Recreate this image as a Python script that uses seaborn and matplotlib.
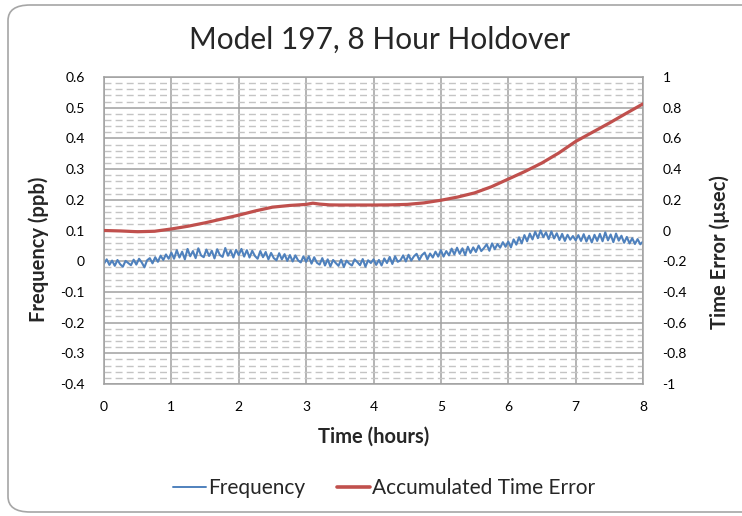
import numpy as np
import pandas as pd
import matplotlib
matplotlib.use("Agg")
import matplotlib.pyplot as plt
import seaborn as sns
from matplotlib.patches import FancyBboxPatch
from matplotlib.lines import Line2D
from matplotlib.ticker import MultipleLocator, FixedLocator

# ---------------- data ----------------
title = "Model 197, 8 Hour Holdover"
x_label = "Time (hours)"
left_label = "Frequency (ppb)"
right_label = "Time Error (\u00b5sec)"
series_names = ["Frequency", "Accumulated Time Error"]

x_ticks = [0, 1, 2, 3, 4, 5, 6, 7, 8]
left_ticks = [0.6, 0.5, 0.4, 0.3, 0.2, 0.1, 0, -0.1, -0.2, -0.3, -0.4]
left_tick_labels = ["0.6", "0.5", "0.4", "0.3", "0.2", "0.1", "0", "-0.1", "-0.2", "-0.3", "-0.4"]
right_ticks = [1, 0.8, 0.6, 0.4, 0.2, 0, -0.2, -0.4, -0.6, -0.8, -1]
right_tick_labels = ["1", "0.8", "0.6", "0.4", "0.2", "0", "-0.2", "-0.4", "-0.6", "-0.8", "-1"]

# frequency samples every 0.04 h
freq_hours = list(np.linspace(0, 8, 201))
freq_values = [
    -0.008, 0.006, -0.012, 0.002, -0.015, 0.004, -0.010, -0.018, 0.001, -0.006, -0.013, 0.005, -0.011,
    0.008, -0.004, -0.020, 0.003, 0.010, -0.007, 0.013, -0.002, 0.018, 0.004, 0.022, 0.008,
    0.028, 0.008, 0.036, 0.012, 0.031, 0.006, 0.040, 0.016, 0.033, 0.010, 0.042, 0.019, 0.013,
    0.038, 0.017, 0.034, 0.009, 0.039, 0.020, 0.014, 0.043, 0.018, 0.035, 0.012, 0.037,
    0.020, 0.040, 0.015, 0.036, 0.012, 0.034, 0.017, 0.008, 0.033, 0.013, 0.030, 0.006, 0.027,
    0.010, 0.003, 0.026, 0.006, 0.023, 0.001, 0.020, -0.001, 0.019, 0.003, -0.004, 0.016,
    -0.002, 0.016, -0.008, 0.013, -0.005, -0.011, 0.010, -0.014, 0.006, -0.017, 0.004, -0.006, -0.015,
    0.005, -0.019, 0.002, -0.008, -0.014, 0.006, -0.003, -0.013, 0.007, -0.018, 0.003, -0.006,
    0.006, -0.012, 0.004, -0.014, 0.009, -0.006, 0.014, -0.009, 0.016, -0.002, 0.003, 0.019, -0.001,
    0.021, 0.002, 0.016, 0.024, 0.004, 0.020, 0.028, 0.006, 0.025, 0.012, 0.031, 0.015,
    0.036, 0.015, 0.033, 0.019, 0.041, 0.022, 0.044, 0.024, 0.042, 0.020, 0.047, 0.027, 0.045,
    0.030, 0.051, 0.033, 0.043, 0.055, 0.034, 0.058, 0.039, 0.056, 0.044, 0.062, 0.047,
    0.064, 0.045, 0.071, 0.054, 0.078, 0.058, 0.085, 0.065, 0.090, 0.071, 0.096, 0.075, 0.100,
    0.078, 0.094, 0.072, 0.097, 0.074, 0.091, 0.069, 0.089, 0.066, 0.086, 0.070, 0.082,
    0.068, 0.085, 0.066, 0.088, 0.064, 0.083, 0.061, 0.086, 0.066, 0.089, 0.065, 0.094, 0.068,
    0.087, 0.062, 0.090, 0.067, 0.083, 0.060, 0.079, 0.058, 0.075, 0.056, 0.072, 0.055, 0.064,
]

te_hours = [0, 0.25, 0.5, 0.75, 1.0, 1.25, 1.5, 1.75, 2.0, 2.25, 2.5, 2.75, 3.0, 3.1, 3.2,
            3.35, 3.5, 3.75, 4.0, 4.25, 4.5, 4.75, 5.0, 5.25, 5.5, 5.75, 6.0, 6.25, 6.5,
            6.75, 7.0, 7.25, 7.5, 7.75, 8.0]
te_values = [0, -0.003, -0.008, -0.005, 0.01, 0.028, 0.05, 0.075, 0.10, 0.128, 0.152, 0.163,
             0.17, 0.178, 0.172, 0.167, 0.166, 0.166, 0.166, 0.167, 0.17, 0.18, 0.197, 0.218,
             0.245, 0.285, 0.335, 0.385, 0.44, 0.505, 0.58, 0.64, 0.70, 0.763, 0.825]

freq_df = pd.DataFrame({"hours": freq_hours, "value": freq_values})
te_df = pd.DataFrame({"hours": te_hours, "value": te_values})

# ---------------- style ----------------
sns.set_style("white")
plt.rcParams["font.family"] = ["Lato", "DejaVu Sans"]

blue = "#4F81BD"
red = "#C0504D"

fig = plt.figure(figsize=(7.42, 5.16), dpi=100)
ax = fig.add_axes([104 / 742, 1 - 384 / 516, (643 - 104) / 742, (384 - 77) / 516])

# chart border
border = FancyBboxPatch((8 / 742, 4 / 516), 1.2, 507 / 516,
                        boxstyle="round,pad=0,rounding_size=0.03",
                        transform=fig.transFigure, facecolor="white",
                        edgecolor="#a6a6a6", linewidth=1.2, zorder=-10)
fig.patches.append(border)

sns.lineplot(data=freq_df, x="hours", y="value", ax=ax, color=blue, linewidth=1.5, legend=False)
ax.set_xlim(0, 8)
ax.set_ylim(-0.4, 0.6)
ax.xaxis.set_major_locator(FixedLocator(x_ticks))
ax.set_yticks(left_ticks)
ax.set_yticklabels(left_tick_labels)
ax.yaxis.set_minor_locator(MultipleLocator(0.02))
ax.grid(which="major", axis="both", color="#a0a0a0", linewidth=1.1)
ax.grid(which="minor", axis="y", color="#c4c4c4", linewidth=1.0, linestyle=(0, (5, 3)))
ax.set_axisbelow(True)
for s in ax.spines.values():
    s.set_color("#a0a0a0")
    s.set_linewidth(1.1)
ax.tick_params(which="both", length=0, labelsize=10, colors="black")
ax.tick_params(axis="x", pad=12)
ax.tick_params(axis="y", pad=14)
ax.set_xlabel(x_label, fontsize=14.5, fontweight="bold", labelpad=10)
ax.set_ylabel(left_label, fontsize=14.5, fontweight="bold", labelpad=4)
ax.yaxis.set_label_coords(-0.102, 0.44)

ax2 = ax.twinx()
sns.lineplot(data=te_df, x="hours", y="value", ax=ax2, color=red, linewidth=2.3, legend=False)
ax2.set_ylim(-1, 1)
ax2.set_xlim(0, 8)
ax2.set_yticks(right_ticks)
ax2.set_yticklabels(right_tick_labels)
ax2.tick_params(which="both", length=0, labelsize=10, colors="black", pad=14)
for s in ax2.spines.values():
    s.set_visible(False)
ax2.set_ylabel(right_label, fontsize=14.5, fontweight="bold", labelpad=14)
ax2.yaxis.set_label_coords(1.124, 0.43)
ax2.grid(False)

fig.text(0.5 + 9 / 742, 1 - 40 / 516, title, ha="center", va="center", fontsize=21.5)

handles = [Line2D([0], [0], color=blue, linewidth=1.4),
           Line2D([0], [0], color=red, linewidth=2.6)]
fig.legend(handles, series_names, loc="center", bbox_to_anchor=(0.5175, 1 - 488 / 516),
           ncol=2, frameon=False, fontsize=15, handlelength=1.6, handletextpad=0.1,
           columnspacing=1.5)

fig.savefig("out.png", dpi=100)
